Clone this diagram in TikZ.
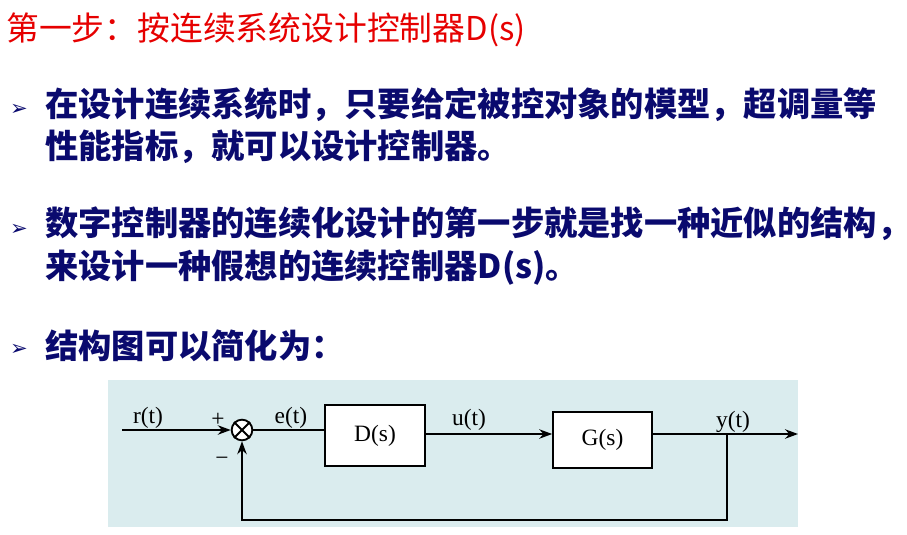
\documentclass[tikz,border=0pt]{standalone}
\usepackage{fontspec}
\setmainfont{Liberation Serif}
\newfontfamily\cjk{Noto Sans CJK SC}
\newfontfamily\symb{DejaVu Sans}
\usetikzlibrary{arrows.meta,positioning}
\definecolor{titlered}{RGB}{230,0,0}
\definecolor{navytext}{RGB}{10,10,110}
\definecolor{panelbg}{RGB}{218,236,238}
\tikzset{
  line/.style={line width=2pt},
  sig/.style={line, -{Stealth[length=11pt,width=8pt]}},
  block/.style={draw, line width=1.4pt, fill=white, font=\fontsize{20}{24}\selectfont},
  bullet/.style={anchor=west, text=navytext, font=\cjk\bfseries\fontsize{28.4}{36}\selectfont, align=left, inner sep=0pt},
  bulletmark/.style={anchor=west, text=navytext, font=\symb\bfseries\fontsize{18}{20}\selectfont, inner sep=0pt},
  sigtext/.style={font=\fontsize{20}{24}\selectfont, inner sep=1pt}
}
\begin{document}
\begin{tikzpicture}[x=0.03cm,y=-0.03cm]
  \useasboundingbox (0,0) rectangle (907,534);
  % title and bullets
  \node[anchor=west, text=titlered, font=\cjk\fontsize{28}{32}\selectfont, inner sep=0pt] (title) at (6,30) {第一步：按连续系统设计控制器D(s)};
  \node[bulletmark] (m1) at (10,110) {➢};
  \node[bullet] (b1) at (45,126) {在设计连续系统时，只要给定被控对象的模型，超调量等\\性能指标，就可以设计控制器。};
  \node[bulletmark] (m2) at (10,230) {➢};
  \node[bullet] (b2) at (45,246) {数字控制器的连续化设计的第一步就是找一种近似的结构，\\来设计一种假想的连续控制器D(s)。};
  \node[bulletmark] (m3) at (10,350) {➢};
  \node[bullet] (b3) at (45,346) {结构图可以简化为：};
  % block diagram
  \fill[panelbg] (108,380) rectangle (798,527);
  \coordinate (rin) at (122,430);
  \node[draw, circle, line width=1.6pt, minimum size=0.62cm, inner sep=0pt, fill=white] (sum) at (242,430) {};
  \draw[line width=1.6pt] (sum.north west) -- (sum.south east) (sum.north east) -- (sum.south west);
  \node[block, minimum width=3cm, minimum height=1.83cm] (D) at (375,435.5) {D(s)};
  \node[block, minimum width=2.97cm, minimum height=1.68cm] (G) at (602.5,440) {G(s)};
  \coordinate (yout) at (798,434);
  \coordinate (tap) at (727,434);
  \coordinate (fb) at (727,520);
  \draw[sig] (rin) -- (sum.west);
  \draw[line] (sum.east) -- (D.west |- sum.east);
  \draw[sig] (D.east |- 0,434) -- (G.west |- 0,434);
  \draw[sig] (G.east |- yout) -- (yout);
  \draw[sig] (tap) -- (fb) -- (sum |- fb) -- (sum.south);
  \node[sigtext] (rlbl) at (148,418) {r(t)};
  \node[sigtext] (plus) at (218,420) {+};
  \node[sigtext] (minus) at (222,461) {\textminus};
  \node[sigtext] (elbl) at (291,418) {e(t)};
  \node[sigtext] (ulbl) at (469,420) {u(t)};
  \node[sigtext] (ylbl) at (733,422) {y(t)};
\end{tikzpicture}
\end{document}
